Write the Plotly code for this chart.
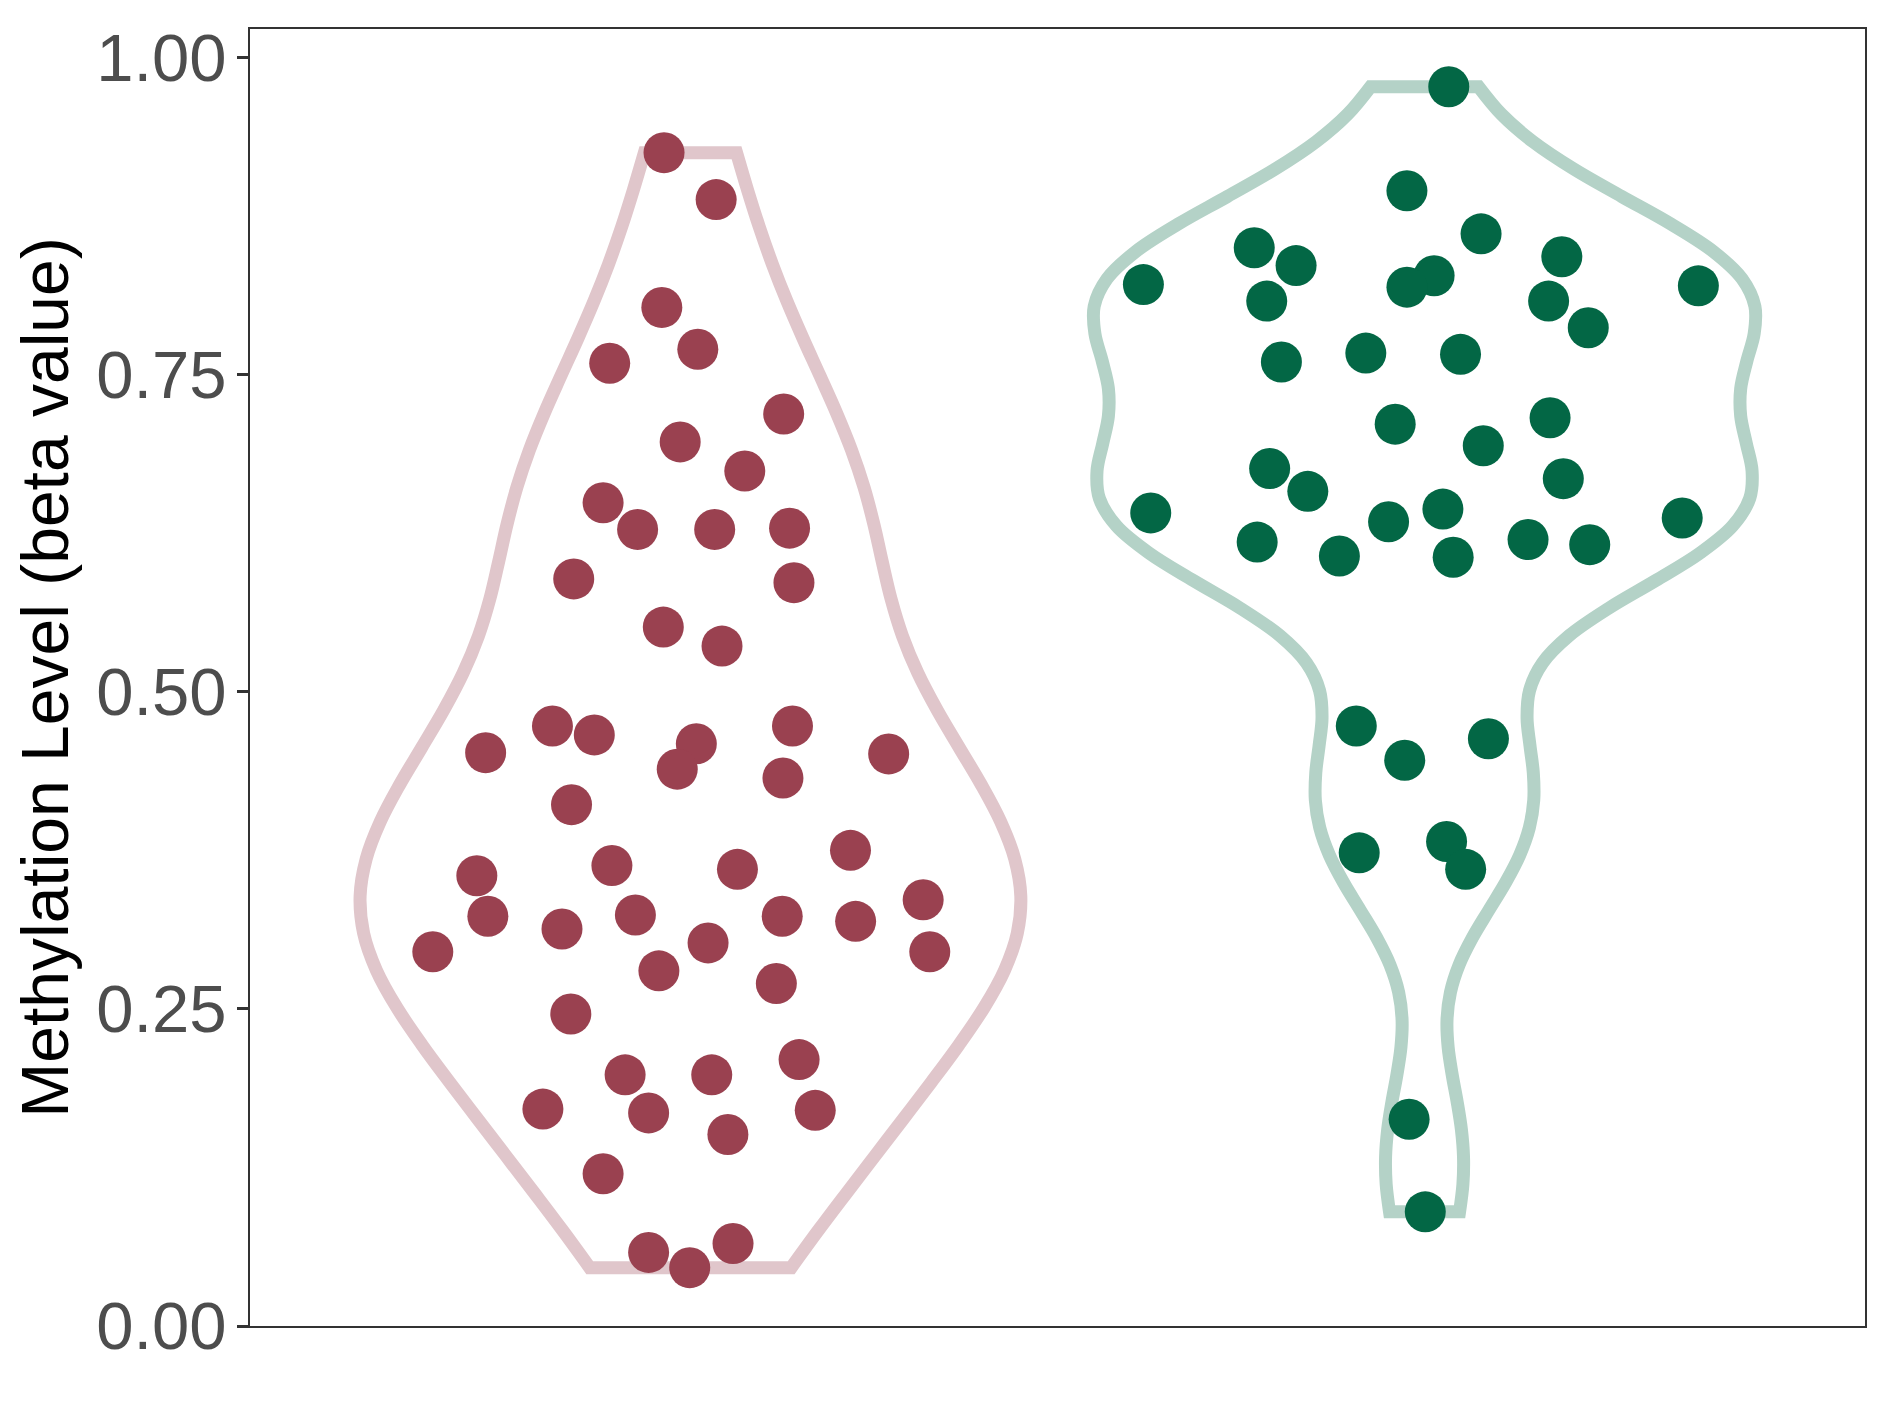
import numpy as np
import plotly.graph_objects as go

# ---- data ----
group_a_y = [0.925, 0.888, 0.803, 0.770, 0.759, 0.719, 0.697, 0.674, 0.649, 0.628,
             0.628, 0.629, 0.589, 0.586, 0.551, 0.536, 0.473, 0.466, 0.473, 0.459,
             0.439, 0.452, 0.451, 0.432, 0.411, 0.375, 0.363, 0.360, 0.355, 0.336,
             0.323, 0.324, 0.323, 0.319, 0.313, 0.302, 0.295, 0.295, 0.280, 0.270,
             0.246, 0.210, 0.198, 0.198, 0.171, 0.168, 0.170, 0.151, 0.120, 0.065,
             0.058, 0.046]
group_a_jitter = [-0.036, 0.035, -0.039, 0.010, -0.110, 0.127, -0.014, 0.074, -0.119, -0.072,
                  0.033, 0.135, -0.159, 0.141, -0.037, 0.043, -0.188, -0.131, 0.139, 0.008,
                  -0.018, -0.279, 0.270, 0.126, -0.162, 0.218, -0.107, 0.064, -0.291, 0.317,
                  -0.276, -0.075, 0.125, 0.225, -0.175, 0.024, -0.351, 0.326, -0.043, 0.117,
                  -0.163, 0.148, -0.089, 0.029, -0.201, -0.057, 0.170, 0.051, -0.119, 0.058,
                  -0.057, -0.001]

group_b_y = [0.977, 0.895, 0.861, 0.850, 0.843, 0.836, 0.821, 0.820, 0.828, 0.819,
             0.808, 0.808, 0.787, 0.760, 0.767, 0.766, 0.711, 0.716, 0.694, 0.676,
             0.668, 0.658, 0.641, 0.644, 0.634, 0.637, 0.618, 0.620, 0.616, 0.607,
             0.606, 0.473, 0.463, 0.446, 0.382, 0.373, 0.360, 0.163, 0.090]
group_b_jitter = [0.033, -0.024, 0.077, -0.232, 0.187, -0.175, -0.383, 0.373, 0.013, -0.024,
                  -0.215, 0.169, 0.223, -0.195, -0.080, 0.049, -0.040, 0.171, 0.080, -0.211,
                  0.189, -0.159, -0.373, 0.025, -0.049, 0.351, -0.228, 0.141, 0.225, -0.116,
                  0.039, -0.093, 0.087, -0.027, 0.030, -0.089, 0.056, -0.021, 0.001]

group_pos = [1, 2]
y_ticks = [0.0, 0.25, 0.5, 0.75, 1.0]
y_ticklabels = ["0.00", "0.25", "0.50", "0.75", "1.00"]

line_colors = ["#e0c6cb", "#b4d2c7"]
point_colors = ["#9a4150", "#036745"]


def nrd0(v):
    v = np.asarray(v, dtype=float)
    sd = v.std(ddof=1)
    iqr = np.subtract(*np.percentile(v, [75, 25]))
    return 0.9 * min(sd, iqr / 1.34) * len(v) ** (-0.2)


fig = go.Figure()
groups = [(group_a_y, group_a_jitter), (group_b_y, group_b_jitter)]
for i, (ys, jit) in enumerate(groups):
    fig.add_trace(go.Violin(
        x=[group_pos[i]] * len(ys), y=ys,
        width=0.9, scalemode="width", spanmode="hard",
        bandwidth=nrd0(ys),
        points=False, box_visible=False, meanline_visible=False,
        fillcolor="rgba(0,0,0,0)",
        line=dict(color=line_colors[i], width=13),
        showlegend=False, hoverinfo="skip",
    ))
for i, (ys, jit) in enumerate(groups):
    fig.add_trace(go.Scatter(
        x=[group_pos[i] + j for j in jit], y=ys, mode="markers",
        marker=dict(color=point_colors[i], size=41, line=dict(width=0)),
        showlegend=False,
    ))

fig.update_layout(
    width=1889, height=1417,
    margin=dict(l=242, r=32, t=16, b=99),
    paper_bgcolor="white", plot_bgcolor="white",
    font=dict(family="Liberation Sans, Arial, sans-serif"),
    violinmode="overlay",
)
fig.update_xaxes(
    type="linear", range=[0.4, 2.6], showgrid=False, zeroline=False,
    showticklabels=False, ticks="",
    showline=True, mirror=True, linecolor="#333333", linewidth=2,
)
fig.update_yaxes(
    range=[0, 1.0225], showgrid=False, zeroline=False,
    tickmode="array", tickvals=y_ticks, ticktext=y_ticklabels,
    ticks="outside", ticklen=11, tickwidth=3, tickcolor="#333333",
    tickfont=dict(size=67, color="#4d4d4d"), ticklabelstandoff=-3,
    showline=True, mirror=True, linecolor="#333333", linewidth=2,
    title=dict(text="Methylation Level (beta value)",
               font=dict(size=66, color="black"), standoff=10),
)

fig.write_html("out.html")
